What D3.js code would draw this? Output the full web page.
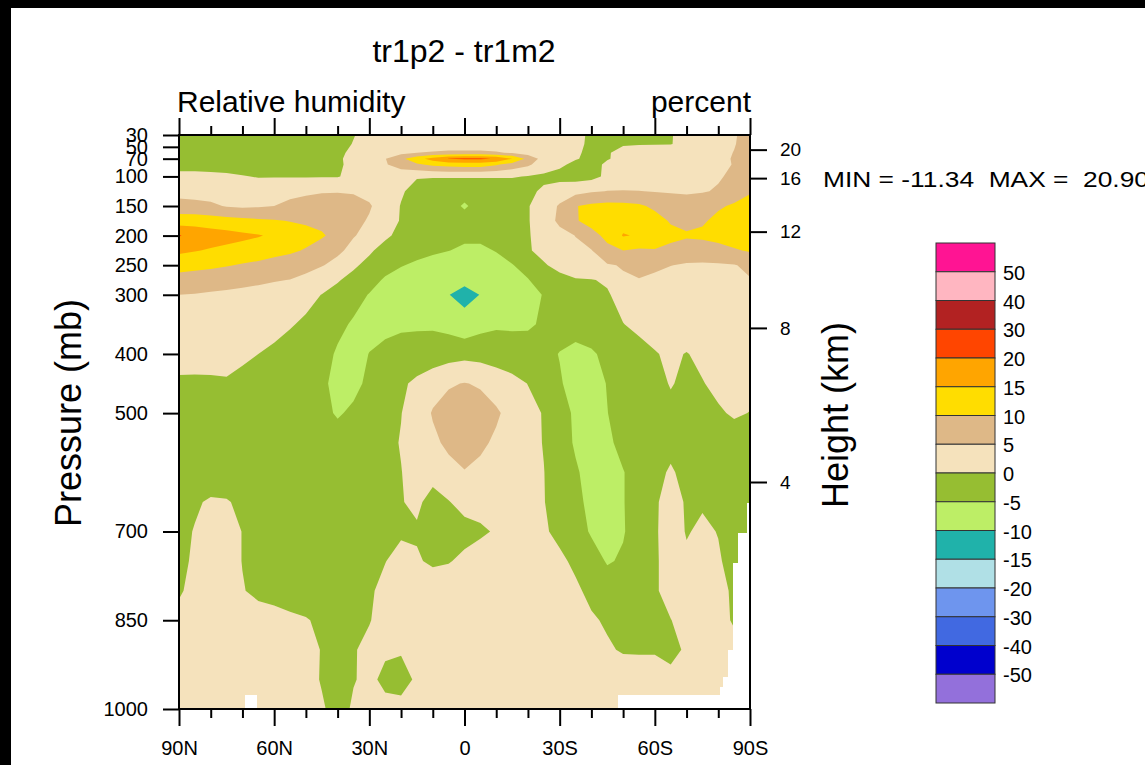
<!DOCTYPE html>
<html>
<head>
<meta charset="utf-8">
<script src="https://cdn.jsdelivr.net/npm/d3@7"></script>
<style>
  html, body { margin: 0; padding: 0; background: #000; }
  svg { display: block; }
  text { font-family: "Liberation Sans", Arial, Helvetica, sans-serif; fill: #000; }
</style>
</head>
<body>
<svg id="chart" width="1145" height="765"></svg>
<script>
// ---- zonal-mean relative humidity difference, tr1p2 - tr1m2 (percent) ----
const latitudes = [90, 85, 80, 75, 70, 65, 60, 55, 50, 45, 40, 35, 30, 25, 20, 15, 10, 5, 0,
  -5, -10, -15, -20, -25, -30, -35, -40, -45, -50, -55, -60, -65, -70, -75, -80, -85, -90];

const pressureLevels = [30, 45, 60, 70, 80, 100, 125, 150, 175, 200, 225, 250, 275, 300,
  350, 400, 450, 500, 550, 600, 650, 700, 750, 800, 850, 900, 950, 1000];

// one row per pressure level, one column per latitude (90N -> 90S)
const rhDiff = [
  [-2.5,-2.5,-2.5,-2.5,-2.5,-2.5,-2.5,-2.5,-2.5,-2,-1.5,-0.2,1.5,2,2,2,2,2,2,2,2,2,2,2,1.5,0.8,-0.5,-1.5,-1.5,-1.5,-1,-0.3,1.7,2.5,3.5,4.5,7.1],
  [-2.5,-2.5,-2.5,-2.5,-2.5,-2.5,-2.5,-2.5,-2.5,-2.5,-1.5,0.2,2,2,2,2,2,2,2,2,2,2,2,2,2,1,-0.8,-0.8,-0.3,-0.3,-0.3,-0.2,1.5,2.5,3.5,4.8,6.5],
  [-2.5,-2.5,-2.5,-2.5,-2.5,-2.5,-2.5,-2.5,-2.5,-2.5,-0.8,0.8,2.5,3,3.5,5,5.5,6,6,6,5.5,4.5,3,2.5,2,0.5,-0.8,-0.3,1,2,2.5,2.5,3,3.5,4,5.1,7],
  [-2.5,-2.5,-2.5,-2.5,-2.5,-2.5,-2.5,-2.5,-2.5,-2.5,-0.5,1,2.5,4.8,9,13,17,20.2,20.9,20.9,19.5,15,8.5,3,2,0.3,-1,-0.2,0.8,2,2.5,2.5,3,3.5,4,5.3,7.5],
  [-2.5,-2.5,-2.5,-2.5,-2.5,-2.5,-2.5,-2.5,-2.5,-2.5,-0.6,1,2.5,4.5,7.5,9.3,11,12,12.5,12.5,10.5,8,5.8,2.5,0.8,-1,-1,0.5,1.5,2.5,2.5,2.5,3,3.5,4,5.2,7.5],
  [2,2,1.5,1,0.3,-0.3,-0.3,-0.3,-0.3,-0.3,-0.3,1.5,2.5,2.5,1,0.3,0.3,0.3,0.3,0.3,0.3,0.3,-0.2,-0.8,-1.5,-2,-1.5,1,2,2.5,3,3.5,3.5,3.5,4.5,6,7.5],
  [3,3,3,3,3,3,3.5,3.8,4.2,4.6,4.7,4.5,3.5,2,0.5,-1.5,-2.5,-2.5,-2.5,-2.5,-2.5,-2.5,-0.8,0.6,2.5,3.5,4.5,5.1,5.2,5.1,4.8,4.5,4.3,4.6,5.5,8,9.5],
  [7,6.5,5.8,4.7,4.2,4.5,5,6,6.8,7.5,7.5,7,5.5,2.5,-0.2,-2.5,-2.5,-2.5,-5.8,-2.5,-2.5,-2,-0.3,2.5,5.5,9.8,11,11.5,11.3,10.8,9,8,7.5,8.5,9.5,10.5,12],
  [12.5,12.8,12.3,11.8,11.3,10.8,10.4,9.8,9.2,8.8,8,6.5,4.5,2,-0.3,-2.5,-2.5,-2.5,-2.5,-2.5,-2.5,-2.5,-0.3,2.5,6,9.5,12,13,13.5,13.5,12,9.5,8.8,9.5,11,12.5,13],
  [20.3,18.5,17.5,16.8,16,15.3,14.3,13,11.8,10.5,8.5,5.3,3.5,1,-1.5,-3,-3.5,-3.8,-4,-4,-3.5,-2.5,-0.4,2,3.5,5.1,8,11.5,15.3,14.6,13,11.5,10.5,10.8,11.5,12.5,13],
  [16,15.3,14.5,13.8,13.2,12.5,11.5,10.8,9.6,8,6,3.5,0.8,-2,-3.2,-3.8,-4.3,-4.9,-5.8,-5.8,-4.8,-3,-0.5,1.5,3,4,4.8,8.5,10,9.3,9.7,8.5,8,8,8.5,9.5,10.5],
  [12,11.5,11,10.3,9.6,9,8.3,7.5,6.5,5.3,3.5,0.8,-1.5,-3.5,-4.8,-5.6,-6.5,-7.5,-8.2,-7.5,-6.5,-5.2,-3.5,-0.5,1.5,3,4,4.6,5.3,6.5,6,5.1,4.5,4.3,4.5,4.8,5.8],
  [8,7.5,7,6.7,6.3,5.8,5.3,4.9,3.8,2.2,0.4,-1.5,-3.5,-5.5,-6.5,-7.5,-8,-8.8,-9,-8.8,-8,-7,-5.2,-3,-1.5,-0.4,-0.2,0.5,4.5,4.8,4,3.5,3,3,3,3.5,4.8],
  [5,4.8,4.5,4.2,3.8,3.5,3,2.5,1.5,-0.1,-1.5,-3.5,-5.2,-7,-8,-8.7,-9.2,-9.9,-11.34,-9.9,-9,-8,-7,-4.7,-3,-1.5,-0.8,-0.4,1.5,3,3.5,3.5,3.2,3,3,3,3],
  [3,2.8,2.5,2.2,2,1.5,1.3,0.4,-0.8,-2.5,-4,-5.5,-6.5,-6.5,-5.8,-5.6,-5.6,-6.5,-8.3,-6.5,-5.6,-5.6,-5.5,-4.5,-2.8,-2,-1.5,-1.2,-0.1,1,2,2.5,3,3,3,3,3],
  [2.5,2.3,2,2,1,0,-0.8,-2,-2.5,-3.5,-5.5,-6.5,-4.9,-3.5,-3,-3,-2.8,-2,-1.5,-1.8,-2.5,-3,-3.2,-3.5,-5.2,-7,-5.8,-3.5,-2.5,-1.5,-0.3,0.8,-0.2,1,2.5,2.5,2],
  [-1,-1,-0.8,-0.6,-1.5,-2,-2.5,-2.5,-2.5,-4,-6.5,-6.5,-3.8,-2,-0.8,1,3,4.5,5.2,4.5,3,1.5,-0.1,-1.5,-4.5,-7,-7,-4.8,-3,-2,-1.5,0.3,-1,-0.2,1,1.5,1.2],
  [-2.5,-2.5,-2.5,-2.5,-2.5,-2.5,-2.5,-2.5,-2.5,-3.5,-5.6,-4,-3,-2,-0.1,2,5.4,7,7.8,7,5.6,3.5,1.5,-0.3,-3,-5.8,-7,-5.1,-3,-2,-1.5,-1.2,-1.5,-1,-0.5,0.5,-0.1],
  [-2.5,-2.5,-2.5,-2.5,-2.5,-2.5,-2.5,-2.5,-2.5,-2.5,-2.5,-2.5,-2.2,-1,0.2,2.5,4,6,7,5.8,4.3,3,1.5,-0.2,-3,-5.5,-7.5,-6,-3.5,-2,-1.5,-1,-1.5,-2,-2,-2,-1.5],
  [-2.5,-2.5,-2.5,-2.5,-2.5,-2.5,-2.5,-2.5,-2.5,-2.5,-2.5,-2.5,-2.2,-1.2,-0.1,1.5,1.5,3.5,4.8,4,3.5,3,2,0.1,-2.5,-4.5,-6.5,-7,-5.2,-3,-1,0.4,-1,-2,-2,-2,-2],
  [-1.5,-0.5,0.5,0.3,-0.8,-1.5,-2,-2,-2,-2,-2,-2,-2,-1.2,-0.2,0.8,-1.5,-0.2,1.5,2,2.5,2.5,1.5,0.2,-2.5,-4,-6,-6.5,-5.2,-3,-0.4,1.2,-0.3,-0.3,-0.5,-1.5,-1.5],
  [-1,0.2,2,1.5,-0.1,-1.5,-2.5,-2.5,-2.5,-2.5,-2.5,-2.5,-2.5,-1.5,-0.5,-0.5,-1.5,-2,-1.5,-0.8,0.5,2,1.5,0.5,-1,-3,-5.5,-6.5,-5.3,-3,-0.4,1.5,-0.2,0.5,-0.1,-1.5,-1.5],
  [-0.5,0.3,2,1.5,-0.1,-1.5,-2,-2.5,-2.5,-2.5,-2.5,-2.5,-1.5,-0.1,1.2,0.5,-0.8,-0.3,1,2.5,3,3,3,2.5,0.8,-0.8,-3,-5.4,-4.5,-2.5,-0.5,1.5,0.5,1.5,0.3,-1,-1],
  [-0.4,1,2.5,2,0.2,-0.8,-1,-2,-2.5,-2.5,-2,-1.5,-0.5,1,2.5,2.5,3,3,3,3,3,3,3,2.5,2,0.7,-1,-2.5,-3,-2,-0.5,1.5,2.5,2.5,1.5,-0.8,-1],
  [1,2,2.5,2.5,2,1.5,1,0.8,0.3,-0.8,-1.5,-1.5,-0.2,1.5,2.5,2.5,2.5,2.5,2.5,2.5,2.5,2.5,2.5,2.5,2.5,1.5,0.5,-0.5,-1.5,-1.5,-0.8,-0.1,1.5,2.5,1.5,-0.5,-1],
  [2.5,2.5,2.5,2.5,2.5,2.5,2.5,2.5,1.5,-0.2,-1.5,-0.3,1,0.5,0.3,1.2,2.5,2.5,2.5,2.5,2.5,2.5,2.5,2.5,2.5,2.5,2.5,0.5,-0.4,-0.5,-0.5,-1,0.5,1.5,1.5,1.5,1.5],
  [2.5,2.5,2.5,2.5,2.5,2.5,2.5,2.5,1.5,-0.3,-2,-0.2,0.8,-0.8,-1.2,0.5,2,2.5,2.5,2.5,2.5,2.5,2.5,2.5,2.5,2.5,2.5,2.5,2.5,2.5,2.5,1,2.5,2.5,1.5,1,1],
  [2.5,2.5,2.5,2.5,2.5,2.5,2.5,2.5,2.5,0.5,-1.5,0.5,1.5,1,1,1.5,2.5,2.5,2.5,2.5,2.5,2.5,2.5,2.5,2.5,2.5,2.5,2.5,2.5,2.5,2.5,2.5,2.5,2.5,2.5,2.5,2.5]
];

// cells with no data below the model surface: [lat edge, lat edge, top pressure]
const missingCells = [
  [69.2, 65.4, 976],
  [-48.4, -90, 976],
  [-80.6, -90, 963],
  [-81.5, -90, 946],
  [-83.1, -90, 900],
  [-84.7, -90, 753],
  [-86.2, -90, 702],
  [-89.1, -90, 652]
];

const contourLevels = [-50, -40, -30, -20, -15, -10, -5, 0, 5, 10, 15, 20, 30, 40, 50];
const bandColors = ["#9370DB", "#0000CD", "#4169E1", "#6E95EE", "#B0E0E6", "#20B2AA", "#BDEE66",
  "#96BE32", "#F5E2BC", "#DEB887", "#FFDD00", "#FFA500", "#FF4500", "#B22222", "#FFB6C1", "#FF1493"];

const latTicks = [90, 60, 30, 0, -30, -60, -90];
const latMinorTicks = [80, 70, 50, 40, 20, 10, -10, -20, -40, -50, -70, -80];
const pressureTicks = [1000, 850, 700, 500, 400, 300, 250, 200, 150, 100, 70, 50, 30];
const heightTicks = [4, 8, 12, 16, 20];

const fieldMin = -11.34, fieldMax = 20.90;

// ---- layout ----
const svg = d3.select("#chart");
svg.append("rect").attr("x", 11).attr("y", 8).attr("width", 1134).attr("height", 757).attr("fill", "#fff");

const plot = { left: 179, right: 750, top: 135, bottom: 709 };
const x = d3.scaleLinear().domain([90, -90]).range([plot.left, plot.right]);
const y = d3.scaleLinear().domain([30, 1000]).range([plot.top, plot.bottom]);

// US standard atmosphere: height (km) -> pressure (mb)
function stdPressure(zKm) {
  if (zKm <= 11) return 1013.25 * Math.pow(1 - 0.0065 * zKm * 1000 / 288.15, 5.25588);
  return 226.32 * Math.exp(-(zKm - 11) * 1000 * 9.80665 / (287.05 * 216.65));
}

// ---- filled contours ----
const nx = latitudes.length, ny = pressureLevels.length;
function gridInterp(arr, u) {
  const t = Math.max(0, Math.min(arr.length - 1, u - 0.5));
  const i = Math.min(arr.length - 2, Math.floor(t));
  return arr[i] + (arr[i + 1] - arr[i]) * (t - i);
}
const gridProjection = d3.geoTransform({
  point(u, v) { this.stream.point(x(gridInterp(latitudes, u)), y(gridInterp(pressureLevels, v))); }
});
const gridPath = d3.geoPath(gridProjection);

const bands = d3.contours().size([nx, ny]).thresholds(contourLevels)(rhDiff.flat());

svg.append("clipPath").attr("id", "plotClip")
  .append("rect").attr("x", plot.left).attr("y", plot.top)
  .attr("width", plot.right - plot.left).attr("height", plot.bottom - plot.top);

const field = svg.append("g").attr("clip-path", "url(#plotClip)");
field.selectAll("path.band")
  .data(bands.filter(b => b.coordinates.length))
  .join("path")
  .attr("class", "band")
  .attr("d", gridPath)
  .attr("fill", b => bandColors[contourLevels.indexOf(b.value) + 1]);

field.selectAll("rect.missing")
  .data(missingCells)
  .join("rect")
  .attr("class", "missing")
  .attr("x", d => Math.min(x(d[0]), x(d[1])))
  .attr("width", d => Math.abs(x(d[1]) - x(d[0])))
  .attr("y", d => y(d[2]))
  .attr("height", d => y(1000) - y(d[2]))
  .attr("fill", "#fff")
  .attr("shape-rendering", "crispEdges");

// ---- axes ----
function styleAxis(g, fontSize) {
  g.attr("font-family", null).attr("font-size", null);
  g.selectAll(".domain").remove();
  g.selectAll(".tick line").attr("stroke", "#000").attr("stroke-width", 2);
  g.selectAll(".tick text").style("font-size", fontSize + "px");
}
const latLabel = d => d === 0 ? "0" : (d > 0 ? d + "N" : (-d) + "S");

svg.append("g").attr("transform", `translate(0,${plot.bottom})`)
  .call(d3.axisBottom(x).tickValues(latTicks).tickFormat(latLabel).tickSize(17).tickPadding(15).tickSizeOuter(0))
  .call(g => styleAxis(g, 20));
svg.append("g").attr("transform", `translate(0,${plot.bottom})`)
  .call(d3.axisBottom(x).tickValues(latMinorTicks).tickFormat("").tickSize(9).tickSizeOuter(0))
  .call(g => styleAxis(g, 20));
svg.append("g").attr("transform", `translate(0,${plot.top})`)
  .call(d3.axisTop(x).tickValues(latTicks).tickFormat("").tickSize(17).tickSizeOuter(0))
  .call(g => styleAxis(g, 20));
svg.append("g").attr("transform", `translate(0,${plot.top})`)
  .call(d3.axisTop(x).tickValues(latMinorTicks).tickFormat("").tickSize(9).tickSizeOuter(0))
  .call(g => styleAxis(g, 20));

svg.append("g").attr("transform", `translate(${plot.left},0)`)
  .call(d3.axisLeft(y).tickValues(pressureTicks).tickFormat(d => d).tickSize(16).tickPadding(15).tickSizeOuter(0))
  .call(g => styleAxis(g, 20));

svg.append("g").attr("transform", `translate(${plot.right},0)`)
  .call(d3.axisRight(y).tickValues(heightTicks.map(stdPressure))
    .tickFormat((d, i) => heightTicks[i]).tickSize(17).tickPadding(13).tickSizeOuter(0))
  .call(g => styleAxis(g, 19));

// frame
svg.append("rect")
  .attr("x", plot.left).attr("y", plot.top)
  .attr("width", plot.right - plot.left).attr("height", plot.bottom - plot.top)
  .attr("fill", "none").attr("stroke", "#000").attr("stroke-width", 2);

// ---- titles ----
svg.append("text").attr("x", 464).attr("y", 62).attr("text-anchor", "middle")
  .style("font-size", "32px").text("tr1p2 - tr1m2");
svg.append("text").attr("x", 177).attr("y", 112)
  .style("font-size", "30px").text("Relative humidity");
svg.append("text").attr("x", 751).attr("y", 112).attr("text-anchor", "end")
  .style("font-size", "30px").text("percent");
svg.append("text").attr("transform", "translate(81,413) rotate(-90)").attr("text-anchor", "middle")
  .style("font-size", "36px").text("Pressure (mb)");
svg.append("text").attr("transform", "translate(848,415) rotate(-90)").attr("text-anchor", "middle")
  .style("font-size", "36px").text("Height (km)");

svg.append("text").attr("x", 823).attr("y", 187).style("font-size", "22px")
  .attr("textLength", 326).attr("lengthAdjust", "spacingAndGlyphs")
  .style("white-space", "pre")
  .text(`MIN = ${fieldMin.toFixed(2)}  MAX =  ${fieldMax.toFixed(2)}`);

// ---- colorbar ----
const cb = { x: 936, y: 243, w: 59, h: 460 };
const cbColors = bandColors.slice().reverse();
const cbLabels = contourLevels.slice().reverse();
const cbScale = d3.scaleBand().domain(d3.range(cbColors.length)).range([cb.y, cb.y + cb.h]).paddingInner(0);
const cbG = svg.append("g");
cbG.selectAll("rect").data(cbColors).join("rect")
  .attr("x", cb.x).attr("y", (d, i) => cbScale(i))
  .attr("width", cb.w).attr("height", cbScale.bandwidth())
  .attr("fill", d => d).attr("stroke", "#333").attr("stroke-width", 1);
cbG.selectAll("text").data(cbLabels).join("text")
  .attr("x", cb.x + cb.w + 8)
  .attr("y", (d, i) => cbScale(i) + cbScale.bandwidth() + 1)
  .attr("dominant-baseline", "central")
  .style("font-size", "20px")
  .text(d => d);
</script>
</body>
</html>
